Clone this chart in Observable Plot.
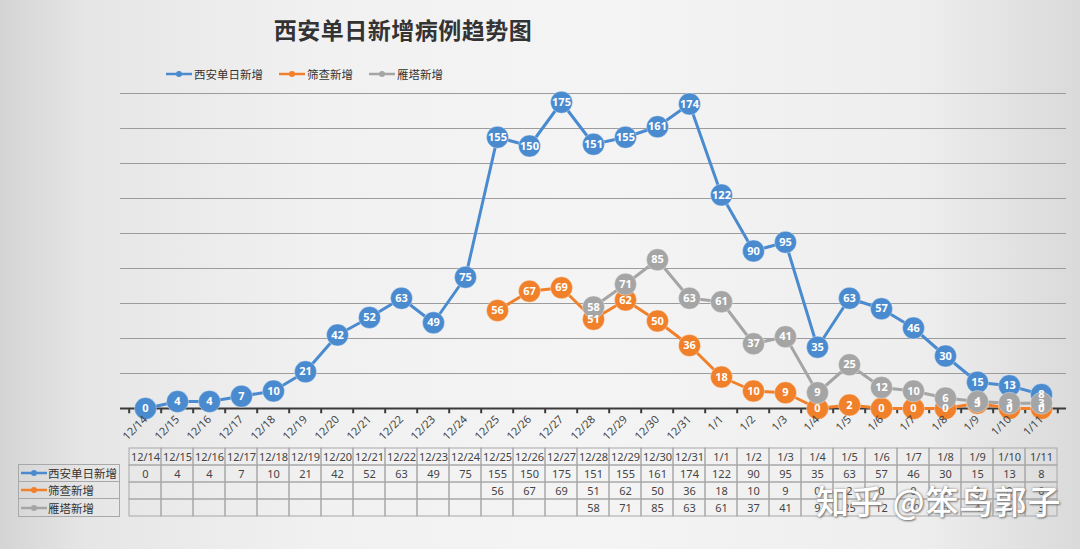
<!DOCTYPE html>
<html><head><meta charset="utf-8">
<script src="https://cdn.jsdelivr.net/npm/d3@7"></script>
<script src="https://cdn.jsdelivr.net/npm/@observablehq/plot@0.6"></script>
<style>
body{margin:0;background:#e6e6e6;}
#wrap{position:relative;width:1080px;height:549px;overflow:hidden;
 background:linear-gradient(to right,#d4d4d4 0%,#e6e6e6 8%,#f1f1f1 30%,#f4f4f4 55%,#eeeeee 85%,#dadada 100%);
 font-family:"Noto Sans CJK SC","Noto Sans",sans-serif;}
#title{position:absolute;left:0;width:806px;top:12px;text-align:center;font-size:23px;font-weight:bold;color:#333;letter-spacing:0.5px;}
#legend{position:absolute;left:166px;top:66px;font-size:11.5px;color:#333;display:flex;gap:16px;align-items:center;}
#legend .it{display:flex;align-items:center;gap:2px;}
#chart{position:absolute;left:0;top:50px;}
#table{position:absolute;left:0;top:446px;}
#rowlab{position:absolute;left:18px;top:463.75px;width:102px;font-size:11.5px;color:#333;}
#rowlab .r{height:17.75px;box-sizing:border-box;border:1px solid #a8a8a8;border-top:none;display:flex;align-items:center;gap:1px;padding-left:2px;white-space:nowrap;overflow:hidden;}
#rowlab .r:first-child{border-top:1px solid #a8a8a8;}
#wm{position:absolute;left:816px;top:476px;font-size:33px;color:#fff;font-weight:500;text-shadow:1px 1px 2px #777,0 0 3px #999;letter-spacing:1px;white-space:nowrap;}
</style></head>
<body><div id="wrap">
<div id="title"></div>
<div id="legend"></div>
<div id="chart"></div>
<div id="table"></div>
<div id="rowlab"></div>
<div id="wm">知乎 @笨鸟郭子</div>
</div>
<script>
const titleText = "西安单日新增病例趋势图";
const dates = ["12/14","12/15","12/16","12/17","12/18","12/19","12/20","12/21","12/22","12/23","12/24","12/25","12/26","12/27","12/28","12/29","12/30","12/31","1/1","1/2","1/3","1/4","1/5","1/6","1/7","1/8","1/9","1/10","1/11"];
const seriesNames = ["西安单日新增","筛查新增","雁塔新增"];
const seriesColors = ["#4a8bcf","#f0802a","#a5a5a5"];
const xianNew = [0,4,4,7,10,21,42,52,63,49,75,155,150,175,151,155,161,174,122,90,95,35,63,57,46,30,15,13,8];
const screenNew = [null,null,null,null,null,null,null,null,null,null,null,56,67,69,51,62,50,36,18,10,9,0,2,0,0,0,3,0,0];
const yantaNew = [null,null,null,null,null,null,null,null,null,null,null,null,null,null,58,71,85,63,61,37,41,9,25,12,10,6,4,3,3];
const gridVals = [20,40,60,80,100,120,140,160,180];
const yDomain = [0,200];

const allSeries = [xianNew, screenNew, yantaNew];
const W = 1080, ML = 120, MR = 14;
const bw = (W - ML - MR) / dates.length;

document.getElementById("title").textContent = titleText;

function swatch(color, w){
  return `<svg width="${w}" height="10" style="flex:none"><line x1="0" y1="5" x2="${w}" y2="5" stroke="${color}" stroke-width="2.5"/><circle cx="${w/2}" cy="5" r="3" fill="${color}"/></svg>`;
}
document.getElementById("legend").innerHTML = seriesNames.map((n,i)=>`<div class="it">${swatch(seriesColors[i],26)}<span>${n}</span></div>`).join("");
document.getElementById("rowlab").innerHTML = seriesNames.map((n,i)=>`<div class="r">${swatch(seriesColors[i],26)}<span>${n}</span></div>`).join("");

const tidy = allSeries.map((arr,si)=>arr.map((v,i)=>({date:dates[i], v, s:si})).filter(d=>d.v!=null));

const marks = [
  Plot.ruleY(gridVals, {stroke:"#9c9c9c", strokeWidth:1}),
  Plot.ruleY([0], {stroke:"#3a3a3a", strokeWidth:2}),
  Plot.ruleX(dates, {x:d=>d, dx:-bw/2, y1:0, y2:-3, stroke:"#3a3a3a", strokeWidth:2}),
  Plot.ruleX(dates.slice(-1), {x:d=>d, dx:bw/2, y1:0, y2:-3, stroke:"#3a3a3a", strokeWidth:2})
];
tidy.forEach((d,si)=>{
  marks.push(Plot.line(d, {x:"date", y:"v", stroke:seriesColors[si], strokeWidth:3}));
  marks.push(Plot.dot(d, {x:"date", y:"v", r:11, fill:seriesColors[si], stroke:"#ffffff", strokeOpacity:0.35, strokeWidth:1}));
});
tidy.forEach((d,si)=>{
  marks.push(Plot.text(d, {x:"date", y:"v", text:"v", fill:"white", fontWeight:"bold", fontSize:11}));
});
marks.push(Plot.axisX({tickRotate:-45, tickSize:0, tickPadding:9, fontSize:11, fill:"#444", label:null}));

const chart = Plot.plot({
  width: W, height: 396,
  marginLeft: ML, marginRight: MR, marginTop: 8, marginBottom: 38,
  style:{background:"transparent", fontFamily:"'Noto Sans', sans-serif"},
  x:{type:"band", domain:dates, padding:0, label:null},
  y:{domain:yDomain, axis:null},
  marks
});
document.getElementById("chart").append(chart);

const rowKeys = ["h", ...seriesNames];
const cells = [];
rowKeys.slice(1).forEach(r=>dates.forEach(d=>cells.push({date:d,row:r})));
dates.forEach(d=>cells.push({date:d,row:"h"}));
const vals = [];
allSeries.forEach((arr,si)=>arr.forEach((v,i)=>{ if(v!=null) vals.push({date:dates[i], row:seriesNames[si], v}); }));

const table = Plot.plot({
  width: W, height: 103,
  marginLeft: ML, marginRight: MR, marginTop: 0, marginBottom: 32,
  style:{background:"transparent", fontFamily:"'Noto Sans', sans-serif"},
  x:{type:"band", domain:dates, padding:0, axis:null},
  y:{type:"band", domain:rowKeys, padding:0, axis:null},
  marks:[
    Plot.cell(cells, {x:"date", y:"row", fill:"none", stroke:"#a8a8a8", strokeWidth:1}),
    Plot.text(dates, {x:d=>d, y:()=>"h", text:d=>d, fontSize:11, fill:"#444"}),
    Plot.text(vals, {x:"date", y:"row", text:"v", fontSize:11, fill:"#444"})
  ]
});
document.getElementById("table").append(table);
</script>
</body></html>
